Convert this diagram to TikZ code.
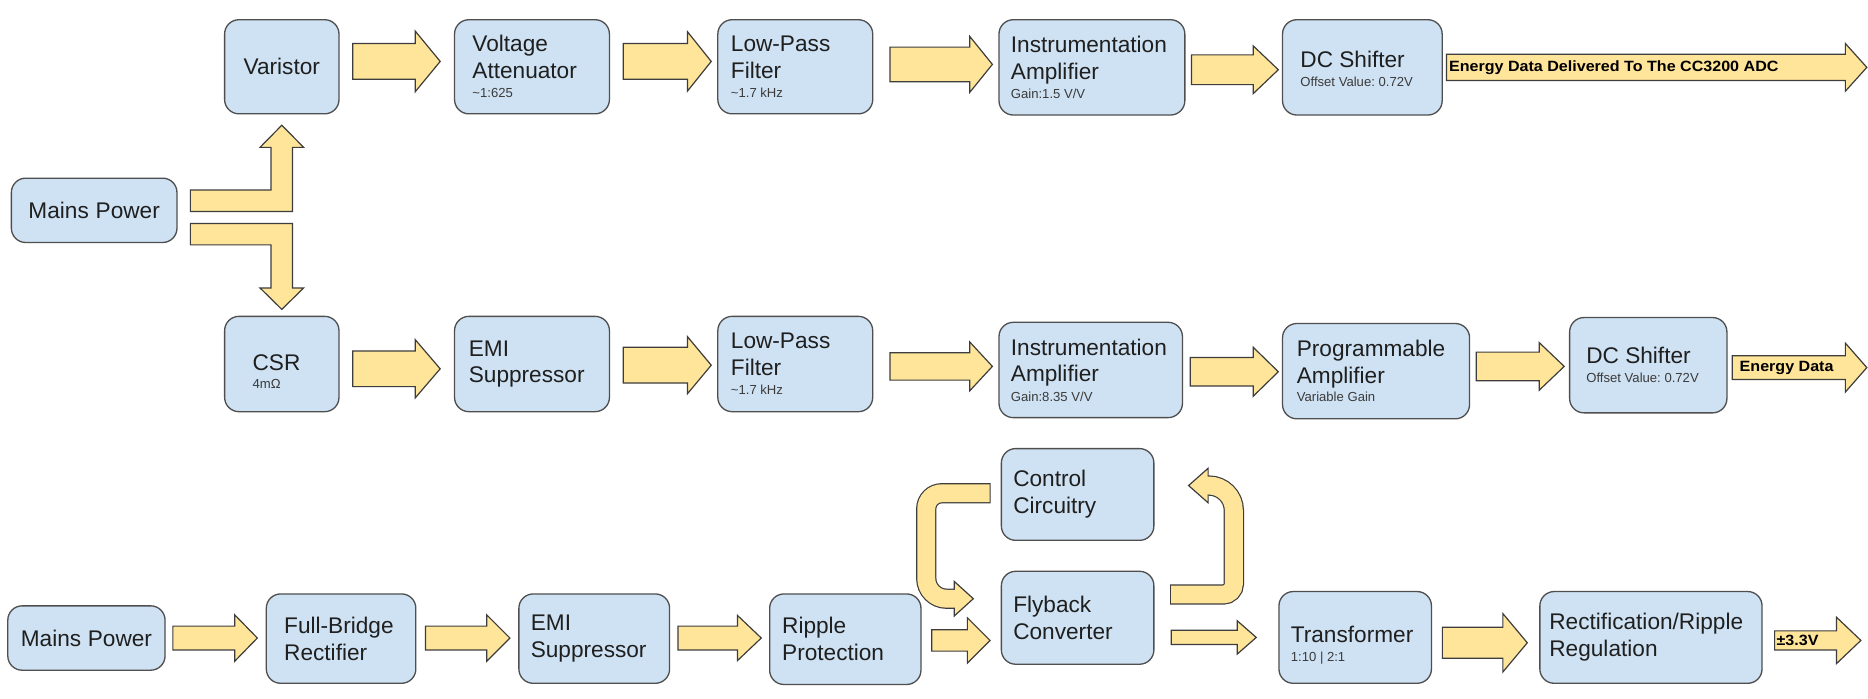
\documentclass[tikz,border=0pt]{standalone}
\usepackage{fontspec}
\setmainfont{Liberation Sans}
\newfontfamily\lblfont[FakeStretch=1.08]{Liberation Sans}
\usetikzlibrary{calc}
\definecolor{boxfill}{HTML}{CFE2F3}
\definecolor{boxline}{HTML}{4F4F4F}
\definecolor{arrfill}{HTML}{FFE599}
\definecolor{arrline}{HTML}{3D3D3D}
\definecolor{txt}{HTML}{1F1F1F}
\definecolor{subtxt}{HTML}{3A3A3A}
\newcommand\stx[1]{{\fontsize{11}{13}\selectfont\spaceskip=0pt\xspaceskip=0pt\frenchspacing\color{subtxt}#1}}
\newcommand\topstrut[1]{\rule{0pt}{#1}}
\tikzset{
  blk/.style={draw=boxline, fill=boxfill, line width=1.1pt, rounded corners=12pt,
    inner sep=0pt, text=txt, font=\fontsize{19}{22.5}\selectfont, anchor=north west,
    execute at begin node={\spaceskip=0pt\xspaceskip=0pt\frenchspacing}},
  blockarrow/.style={draw=arrline, fill=arrfill, line width=1pt, line join=miter},
  lbl/.style={anchor=west, inner sep=0pt, text=black, font=\lblfont\bfseries\fontsize{12.5}{14}\selectfont},
}
% horizontal block arrow: start point, tip point, shaft half, head half, head length
\newcommand\harr[5]{%
  \path[blockarrow] let \p1=(#1), \p2=(#2) in
   (\x1,\y1+#3) -- (\x2-#5,\y1+#3) -- (\x2-#5,\y1+#4) -- (\x2,\y1)
   -- (\x2-#5,\y1-#4) -- (\x2-#5,\y1-#3) -- (\x1,\y1-#3) -- cycle;}
\begin{document}
\begin{tikzpicture}[x=1pt,y=-1pt]
\useasboundingbox[fill=white] (0,0) rectangle (1568,586);

% ---------- row 1 ----------
\node[blk, minimum width=96pt, minimum height=79pt, text width=86pt, align=center] (var) at (188,16) {Varistor};
\node[blk, minimum width=130pt, minimum height=79pt, text width=100pt, align=left] (va) at (381,16) {Voltage\\Attenuator\\[-6.5pt]\stx{\textasciitilde1:625}};
\node[blk, minimum width=130pt, minimum height=79pt, text width=108pt, align=left] (lpf1) at (602,16) {Low-Pass\\Filter\\[-6.5pt]\stx{\textasciitilde1.7 kHz}};
\node[blk, minimum width=156pt, minimum height=80pt, text width=136pt, align=left] (ia1) at (838,16) {Instrumentation\\Amplifier\\[-6.5pt]\stx{Gain:1.5 V/V}};
\node[blk, minimum width=134pt, minimum height=80pt, text width=104pt, align=left] (dc1) at (1076,16) {\topstrut{17pt}DC Shifter\\[-6.5pt]\stx{Offset Value: 0.72V}};

% ---------- row 2 ----------
\node[blk, minimum width=139pt, minimum height=54pt, text width=125pt, align=center] (mp1) at (9,149) {Mains Power};
\node[blk, minimum width=96pt, minimum height=80pt, text width=49pt, align=left] (csr) at (188,265) {\topstrut{26pt}CSR\\[-7pt]\stx{4mΩ}};
\node[blk, minimum width=130pt, minimum height=80pt, text width=106pt, align=left] (emi1) at (381,265) {EMI\\Suppressor};
\node[blk, minimum width=130pt, minimum height=80pt, text width=108pt, align=left] (lpf2) at (602,265) {Low-Pass\\Filter\\[-6.5pt]\stx{\textasciitilde1.7 kHz}};
\node[blk, minimum width=154pt, minimum height=80pt, text width=134pt, align=left] (ia2) at (838,270) {Instrumentation\\Amplifier\\[-6.5pt]\stx{Gain:8.35 V/V}};
\node[blk, minimum width=157pt, minimum height=80pt, text width=133pt, align=left] (pa) at (1076,271) {Programmable\\Amplifier\\[-7pt]\stx{Variable Gain}};
\node[blk, minimum width=132pt, minimum height=80pt, text width=104pt, align=left] (dc2) at (1317,266) {DC Shifter\\[-6.5pt]\stx{Offset Value: 0.72V}};

% ---------- row 3 ----------
\node[blk, minimum width=132pt, minimum height=54pt, text width=120pt, align=center] (mp2) at (6,508) {Mains Power};
\node[blk, minimum width=125.5pt, minimum height=75pt, text width=95.5pt, align=left] (fbr) at (223,498) {Full-Bridge\\Rectifier};
\node[blk, minimum width=126.5pt, minimum height=75pt, text width=106.5pt, align=left] (emi2) at (435,498) {EMI\\Suppressor};
\node[blk, minimum width=127pt, minimum height=76pt, text width=106pt, align=left] (rp) at (645.5,498) {Ripple\\Protection};
\node[blk, minimum width=128pt, minimum height=77pt, text width=108pt, align=left] (cc) at (840,376) {Control\\Circuitry};
\node[blk, minimum width=128pt, minimum height=78pt, text width=108pt, align=left] (fc) at (840,479) {Flyback\\Converter};
\node[blk, minimum width=128pt, minimum height=77pt, text width=108pt, align=left] (tr) at (1073,496) {\topstrut{27pt}Transformer\\[-7pt]\stx{1:10 | 2:1}};
\node[blk, minimum width=186.5pt, minimum height=77pt, text width=170.5pt, align=left] (rr) at (1292,496) {Rectification/Ripple\\Regulation};

\coordinate (out1) at (1567,56);
\coordinate (out2) at (1567,308);
\coordinate (out3) at (1562,537);

% ---------- row 1 arrows ----------
\harr{$(var.east)+(11,-4.5)$}{$(va.west)+(-11.5,0)$}{15pt}{25.5pt}{21pt}
\harr{$(va.east)+(11,-4.5)$}{$(lpf1.west)+(-5,0)$}{15pt}{25pt}{20pt}
\harr{$(lpf1.east)+(14,-2)$}{$(ia1.west)+(-5,0)$}{14.5pt}{23.5pt}{19pt}
\harr{$(ia1.east)+(5,2)$}{$(dc1.west)+(-3,0)$}{12.5pt}{20pt}{21pt}
\harr{$(dc1.east)+(3,0)$}{out1}{11pt}{20pt}{18pt}
\node[lbl] (l1) at ($(dc1.east)+(5,0)$) {Energy Data Delivered To The CC3200 ADC};

% ---------- split arrows from mains power ----------
\path[blockarrow] let \p1=($(mp1.east)+(10.7,-8)$), \p2=($(var.south)+(0,9)$) in
  (\x1,\y1+9pt) -- (\x2-9pt,\y1+9pt) -- (\x2-9pt,\y2-18.6pt) -- (\x2-18.3pt,\y2-18.6pt)
  -- (\x2,\y2) -- (\x2+18.3pt,\y2-18.6pt) -- (\x2+9pt,\y2-18.6pt) -- (\x2+9pt,\y1-9pt)
  -- (\x1,\y1-9pt) -- cycle;
\path[blockarrow] let \p1=($(mp1.east)+(10.7,20)$), \p2=($(csr.north)+(0,-5.3)$) in
  (\x1,\y1+9pt) -- (\x2+9pt,\y1+9pt) -- (\x2+9pt,\y2+18pt) -- (\x2+18.3pt,\y2+18pt)
  -- (\x2,\y2) -- (\x2-18.3pt,\y2+18pt) -- (\x2-9pt,\y2+18pt) -- (\x2-9pt,\y1-9pt)
  -- (\x1,\y1-9pt) -- cycle;

% ---------- row 2 arrows ----------
\harr{$(csr.east)+(11,4)$}{$(emi1.west)+(-11.5,0)$}{15pt}{24.5pt}{21pt}
\harr{$(emi1.east)+(11,1)$}{$(lpf2.west)+(-5,0)$}{15pt}{24pt}{20pt}
\harr{$(lpf2.east)+(14,2)$}{$(ia2.west)+(-5,0)$}{11.5pt}{20.5pt}{19pt}
\harr{$(ia2.east)+(6,1.5)$}{$(pa.west)+(-3,0)$}{12pt}{20.5pt}{21pt}
\harr{$(pa.east)+(5,-4)$}{$(dc2.west)+(-4,0)$}{12pt}{20pt}{21pt}
\harr{$(dc2.east)+(4,2)$}{out2}{10pt}{20.5pt}{18pt}
\node[lbl] (l2) at ($(dc2.east)+(10,2)$) {Energy Data};

% ---------- row 3 arrows ----------
\harr{$(mp2.east)+(6,0)$}{$(fbr.west)+(-7,0)$}{10pt}{19.5pt}{19pt}
\harr{$(fbr.east)+(7.5,-0.5)$}{$(emi2.west)+(-7,0)$}{10pt}{19.5pt}{19.5pt}
\harr{$(emi2.east)+(6.5,-0.5)$}{$(rp.west)+(-6.5,0)$}{10pt}{19pt}{20pt}
\harr{$(rp.east)+(8.5,1)$}{$(fc.west)+(-9,0)$}{9pt}{19pt}{19pt}
\harr{$(fc.east)+(14,16.5)$}{$(tr.west)+(-18.5,0)$}{6pt}{14pt}{16pt}
\harr{$(tr.east)+(8.6,4.5)$}{$(rr.west)+(-10,0)$}{13pt}{24.5pt}{20.5pt}
\harr{$(rr.east)+(10,2.5)$}{out3}{8pt}{19.5pt}{20.5pt}
\node[lbl] (l3) at ($(rr.east)+(11.5,2.5)$) {±3.3V};

% ---------- loop arrow: control circuitry -> flyback ----------
\coordinate (ca) at ($(cc.west)+(-8.4,-1)$);
\coordinate (cb) at ($(fc.west)+(-23,-16)$);
\draw[arrline, line width=17pt] let \p1=(ca), \p2=(cb) in
  (\x1,\y1) [rounded corners=13pt] -- (\x2-39.5pt,\y1) [rounded corners=17pt] -- (\x2-39.5pt,\y2) -- (\x2-16pt,\y2);
\path[blockarrow] let \p2=(cb) in
  (\x2-16pt,\y2+14.5pt) -- (\x2,\y2) -- (\x2-16pt,\y2-14.5pt) -- cycle;
\draw[arrfill, line width=15pt] let \p1=(ca), \p2=(cb) in
  (\x1-1pt,\y1) [rounded corners=13pt] -- (\x2-39.5pt,\y1) [rounded corners=17pt] -- (\x2-39.5pt,\y2) -- (\x2-14pt,\y2);

% ---------- loop arrow: flyback -> control circuitry ----------
\coordinate (da) at ($(fc.east)+(13,-19.5)$);
\coordinate (db) at ($(cc.east)+(28.6,-7.5)$);
\draw[arrline, line width=17pt] let \p1=(da), \p2=(db) in
  (\x1,\y1) [rounded corners=9pt] -- (\x2+38pt,\y1) [rounded corners=21pt] -- (\x2+38pt,\y2) -- (\x2+16.4pt,\y2);
\path[blockarrow] let \p2=(db) in
  (\x2+16.4pt,\y2+14.5pt) -- (\x2,\y2) -- (\x2+16.4pt,\y2-14.5pt) -- cycle;
\draw[arrfill, line width=15pt] let \p1=(da), \p2=(db) in
  (\x1+1pt,\y1) [rounded corners=9pt] -- (\x2+38pt,\y1) [rounded corners=21pt] -- (\x2+38pt,\y2) -- (\x2+14.4pt,\y2);
\end{tikzpicture}
\end{document}
